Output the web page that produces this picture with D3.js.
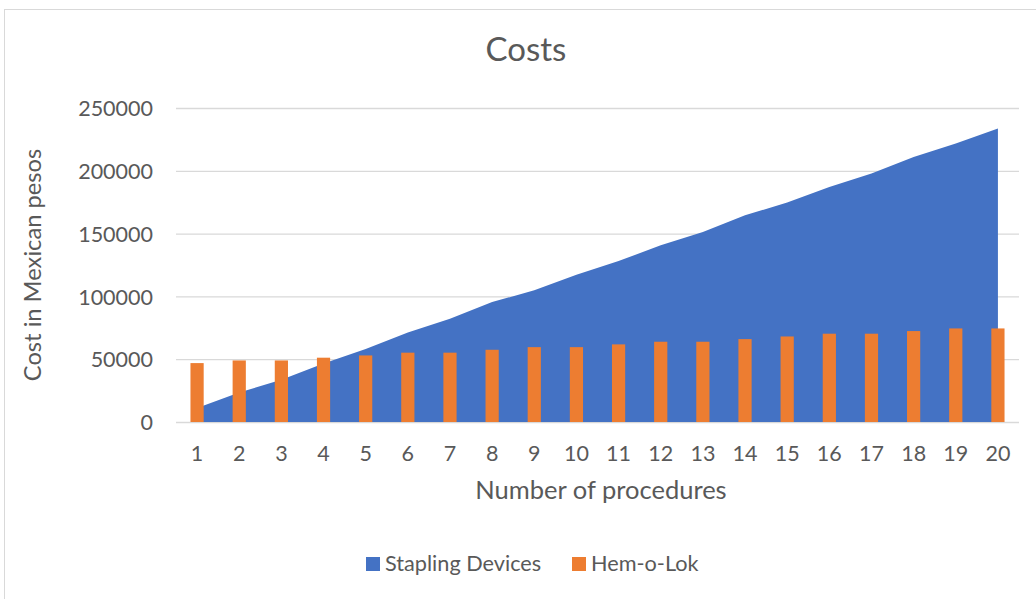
<!DOCTYPE html>
<html>
<head>
<meta charset="utf-8">
<script src="https://cdn.jsdelivr.net/npm/d3@7"></script>
<style>
    body { margin: 0; background: #fff; }
    svg text { font-family: Lato, "Open Sans", sans-serif; fill: #595959; }
    .grid line { stroke: #d9d9d9; stroke-width: 1.3; }
</style>
</head>
<body>
<svg id="chart"></svg>
<script>
// Values
const procedures = [1, 2, 3, 4, 5, 6, 7, 8, 9, 10, 11, 12, 13, 14, 15, 16, 17, 18, 19, 20];
const staplingCost = [11100, 23500, 33700, 46600, 58200, 71300, 82200, 95500, 104800, 117300,
                      128100, 140700, 151300, 164600, 174700, 187100, 197800, 211000, 221700, 233700];
const hemolokCost = [46900, 49000, 49000, 51200, 53000, 55200, 55200, 57500, 59600, 59600,
                     61800, 63900, 63900, 66000, 68100, 70300, 70300, 72400, 74500, 74500];
const yTicks = [0, 50000, 100000, 150000, 200000, 250000];
const seriesNames = ['Stapling Devices', 'Hem-o-Lok'];

const config = {
    containerWidth: 1036,
    containerHeight: 599,
    margin: {top: 108, right: 17, bottom: 177, left: 176},
    blue: '#4472c4',
    orange: '#ed7d31'
};

const width = config.containerWidth - config.margin.left - config.margin.right;
const height = config.containerHeight - config.margin.top - config.margin.bottom;

const svg = d3.select('#chart')
    .attr('width', config.containerWidth)
    .attr('height', config.containerHeight);

// chart frame
svg.append('rect')
    .attr('x', 4.5)
    .attr('y', 9.5)
    .attr('width', 1100)
    .attr('height', 700)
    .attr('fill', 'none')
    .attr('stroke', '#d9d9d9');

const chart = svg.append('g')
    .attr('transform', `translate(${config.margin.left},${config.margin.top})`);

const xScale = d3.scaleBand()
    .domain(procedures)
    .range([0, width]);

const yScale = d3.scaleLinear()
    .domain([0, 250000])
    .range([height, 0]);

// gridlines + y tick labels
const yAxis = d3.axisLeft(yScale)
    .tickValues(yTicks)
    .tickSize(-width)
    .tickPadding(23)
    .tickFormat(d3.format('d'));

chart.append('g')
    .attr('class', 'grid')
    .call(yAxis)
    .call(g => g.select('.domain').remove())
    .selectAll('text')
    .style('font-size', '21.5px')
    .attr('dy', '0.36em');

const xAxis = d3.axisBottom(xScale)
    .tickSize(0)
    .tickPadding(24);

chart.append('g')
    .attr('transform', `translate(0,${height})`)
    .call(xAxis)
    .call(g => g.select('.domain').remove())
    .selectAll('text')
    .style('font-size', '21.5px');

// Stapling devices: area from centre of first band to centre of last
const xCenter = d => xScale(d) + xScale.bandwidth() / 2;

const area = d3.area()
    .x((d, i) => xCenter(procedures[i]))
    .y0(yScale(0))
    .y1(d => yScale(d));

chart.append('path')
    .datum(staplingCost)
    .attr('fill', config.blue)
    .attr('d', area);

// Hem-o-Lok bars (gap width ~219%)
const barWidth = xScale.bandwidth() / 3.19;

chart.selectAll('.bar')
    .data(hemolokCost)
    .join('rect')
    .attr('class', 'bar')
    .attr('x', (d, i) => xCenter(procedures[i]) - barWidth / 2)
    .attr('width', barWidth)
    .attr('y', d => yScale(d))
    .attr('height', d => yScale(0) - yScale(d))
    .attr('fill', config.orange);

// Title
svg.append('text')
    .attr('x', 526)
    .attr('y', 61)
    .attr('text-anchor', 'middle')
    .style('font-size', '33px')
    .text('Costs');

// Y-Axis Label
svg.append('text')
    .attr('transform', 'rotate(-90)')
    .attr('x', -265)
    .attr('y', 41)
    .attr('text-anchor', 'middle')
    .style('font-size', '23.7px')
    .text('Cost in Mexican pesos');

// X-Axis Label
svg.append('text')
    .attr('x', 601)
    .attr('y', 499)
    .attr('text-anchor', 'middle')
    .style('font-size', '25.5px')
    .text('Number of procedures');

// Legend
const legendItems = [
    {name: seriesNames[0], color: config.blue, x: 366},
    {name: seriesNames[1], color: config.orange, x: 572}
];

const legend = svg.append('g').selectAll('g')
    .data(legendItems)
    .join('g')
    .attr('transform', d => `translate(${d.x},557)`);

legend.append('rect')
    .attr('width', 14)
    .attr('height', 14)
    .attr('fill', d => d.color);

legend.append('text')
    .attr('x', 19)
    .attr('y', 14)
    .style('font-size', '21.7px')
    .text(d => d.name);
</script>
</body>
</html>
